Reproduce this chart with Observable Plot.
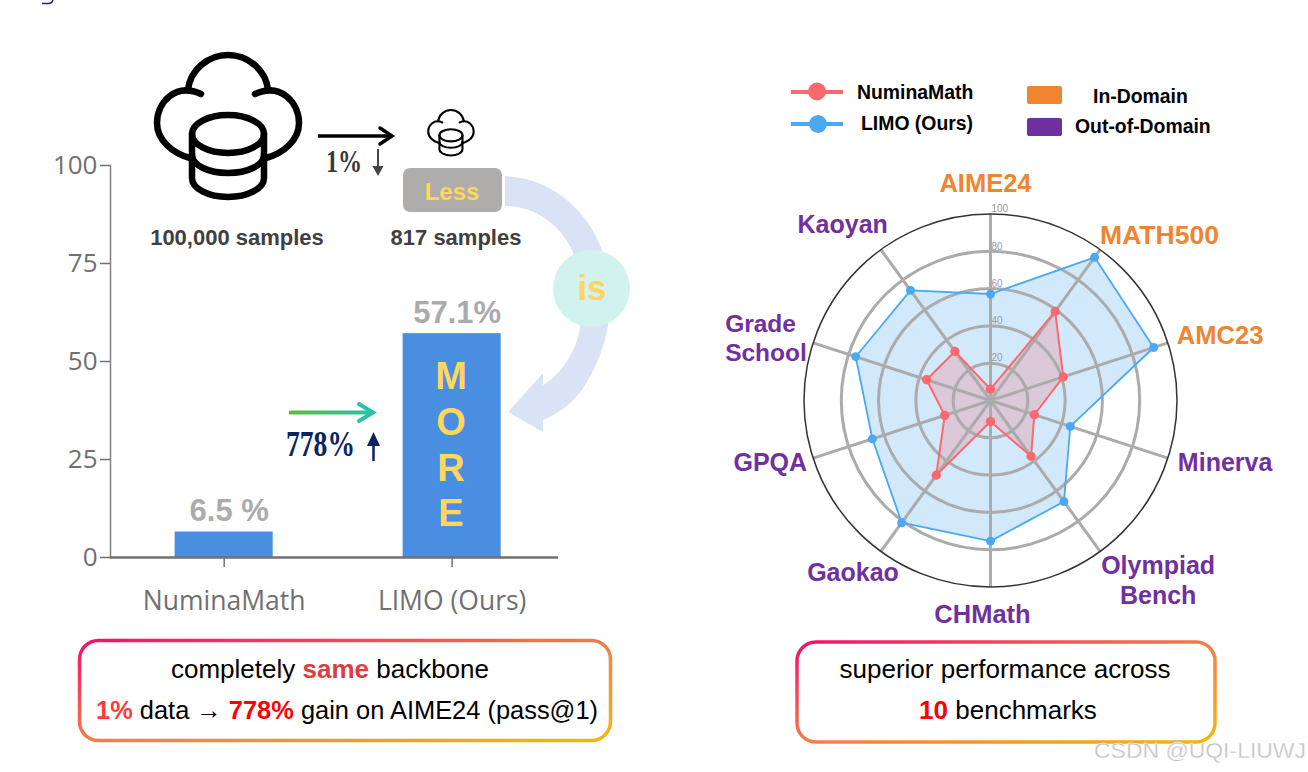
<!DOCTYPE html>
<html>
<head>
<meta charset="utf-8">
<script src="https://cdn.jsdelivr.net/npm/d3@7"></script>
<script src="https://cdn.jsdelivr.net/npm/@observablehq/plot@0.6"></script>
<style>
html,body{margin:0;padding:0;background:#fff;}
#page{position:relative;width:1308px;height:772px;overflow:hidden;font-family:"Liberation Sans",Arial,sans-serif;}
#bars,#radar,#decor{position:absolute;top:0;}
#bars{left:0;}
#radar{left:668px;}
#decor{left:0;width:1308px;height:772px;pointer-events:none;}
#bars svg,#radar svg{overflow:visible;}
</style>
</head>
<body>
<div id="page">
<div id="bars"></div>
<div id="radar"></div>
<svg id="decor" width="1308" height="772" viewBox="0 0 1308 772" xmlns="http://www.w3.org/2000/svg">
<defs>
<linearGradient id="boxGrad" x1="0" y1="0" x2="1" y2="1">
<stop offset="0" stop-color="#F50F6B"/><stop offset="0.5" stop-color="#F37C4A"/><stop offset="1" stop-color="#F2B70F"/>
</linearGradient>
<linearGradient id="greenGrad" gradientUnits="userSpaceOnUse" x1="289" y1="0" x2="376" y2="0">
<stop offset="0" stop-color="#5DBB3F"/><stop offset="1" stop-color="#2EC0A8"/>
</linearGradient>
<g id="cloudIcon" fill="none" stroke="#000" stroke-width="6.5" stroke-linecap="round">
<path d="M201,94 C175,82 157,103 157,123 C157,140 172,153 190,158"/>
<path d="M188,90 C190,70 208,55 228,55 C248,55 266,70 268,90"/>
<path d="M255,94 C281,82 299,103 299,123 C299,140 284,153 266,158"/>
<ellipse cx="228" cy="134" rx="36" ry="19"/>
<path d="M192,134 V178 A36,19 0 0 0 264,178 V134"/>
<path d="M192,155 A36,18 0 0 0 264,155"/>
</g>
</defs>
<path d="M42,3.500 H48 Q52,3.500 53,0" stroke="#1a2a70" stroke-width="1.500" fill="none"/>

<use href="#cloudIcon"/>
<g transform="translate(378,92.4) scale(0.32)"><use href="#cloudIcon"/></g>

<path d="M505,176 C555,178 590,215 602,250 C615,290 615,340 582,390 C570,405 558,414 543,420 L543,432 L508,412 L543,373 L543,385 C560,376 578,350 580,326 C584,300 582,275 572,250 C560,225 535,206 505,206 Z" fill="#DAE3F5"/>
<circle cx="591.5" cy="288.5" r="38.5" fill="#D2F2EF"/>
<text x="592" y="300" font-size="35" font-weight="bold" fill="#FFD75E" text-anchor="middle">is</text>

<path d="M318,136 H391" stroke="#000" stroke-width="3.5" fill="none"/>
<path d="M380,128 L392,136 L380,144" stroke="#000" stroke-width="3.5" fill="none" stroke-linecap="round"/>
<text x="326" y="172" font-family="Liberation Serif" font-weight="bold" font-size="31" fill="#3a3a3a" textLength="36" lengthAdjust="spacingAndGlyphs">1%</text>
<path d="M378,149 V170" stroke="#444" stroke-width="2"/>
<path d="M372.500,166 L383.500,166 L378,176 Z" fill="#444"/>

<rect x="403" y="168" width="99" height="44" rx="7" fill="#AEADAB"/>
<text x="452" y="200" font-size="24" font-weight="bold" fill="#FFD75E" text-anchor="middle">Less</text>
<text x="237" y="245" font-size="22" font-weight="bold" fill="#404040" text-anchor="middle">100,000 samples</text>
<text x="456" y="245" font-size="22" font-weight="bold" fill="#404040" text-anchor="middle">817 samples</text>

<g font-size="38" font-weight="bold" fill="#FFD75E" text-anchor="middle">
<text x="451" y="389">M</text><text x="451" y="435">O</text><text x="451" y="481">R</text><text x="451" y="526">E</text>
</g>

<path d="M289,412.500 H372" stroke="url(#greenGrad)" stroke-width="4" fill="none"/>
<path d="M359,404 L373,412.500 L359,421" stroke="#2EC0A8" stroke-width="4" fill="none" stroke-linecap="round"/>
<text x="286" y="456" font-family="Liberation Serif" font-weight="bold" font-size="35" fill="#0A2463" textLength="69" lengthAdjust="spacingAndGlyphs">778%</text>
<path d="M373.500,441 V461" stroke="#0A2463" stroke-width="2.500"/>
<path d="M367,446 L380,446 L373.500,432 Z" fill="#0A2463"/>

<rect x="79.500" y="640.500" width="531" height="100" rx="19" fill="#fff" stroke="url(#boxGrad)" stroke-width="3.500"/>
<text x="330" y="678" font-size="26" text-anchor="middle" fill="#000">completely <tspan font-weight="bold" fill="#D94040">same</tspan> backbone</text>
<text x="347" y="719" font-size="25.500" text-anchor="middle" fill="#000" textLength="502" lengthAdjust="spacingAndGlyphs"><tspan font-weight="bold" fill="#FF3B3B">1%</tspan> data → <tspan font-weight="bold" fill="#FF0000">778%</tspan> gain on AIME24 (pass@1)</text>

<rect x="797" y="642" width="418" height="100" rx="19" fill="#fff" stroke="url(#boxGrad)" stroke-width="3.500"/>
<text x="1005" y="678" font-size="26" text-anchor="middle" fill="#000">superior performance across</text>
<text x="1008" y="719" font-size="26" text-anchor="middle" fill="#000"><tspan font-weight="bold" fill="#FF0000">10</tspan> benchmarks</text>

<g>
<path d="M791,92 H843" stroke="#F9696D" stroke-width="4"/><circle cx="817" cy="91.500" r="9" fill="#F9696D"/>
<path d="M791,124 H843" stroke="#4AA8F5" stroke-width="4"/><circle cx="818" cy="124" r="9" fill="#4AA8F5"/>
<rect x="1027" y="86" width="35" height="18" rx="2" fill="#EF8530"/>
<rect x="1027" y="118" width="35" height="18" rx="2" fill="#7030A0"/>
<g font-size="19.400" font-weight="bold" fill="#000">
<text x="857" y="99">NuminaMath</text>
<text x="861" y="130">LIMO (Ours)</text>
<text x="1093" y="103">In-Domain</text>
<text x="1075" y="133">Out-of-Domain</text>
</g>
</g>

<text x="1094" y="758" font-size="22" fill="#c4c4c4" stroke="#fff" stroke-width="0.3" textLength="212" lengthAdjust="spacingAndGlyphs">CSDN @UQI-LIUWJ</text>
</svg>
</div>
<script>
// ---- Bar chart data ----
const barModels = ["NuminaMath", "LIMO (Ours)"];
const barScores = [6.5, 57.1];
const barLabels = ["6.5 %", "57.1%"];
const barTicks = [0, 25, 50, 75, 100];

// ---- Radar data (clockwise from the top) ----
const benchmarks = ["AIME24", "MATH500", "AMC23", "Minerva", "Olympiad\nBench", "CHMath", "Gaokao", "GPQA", "Grade\nSchool", "Kaoyan"];
const domains = ["In", "In", "In", "Out", "Out", "Out", "Out", "Out", "Out", "Out"];
const numinaScores = [6.1, 59, 41, 24.7, 37, 11.3, 49.5, 25.8, 36, 32.5];
const limoScores = [57.1, 94.9, 92, 45, 67, 75.4, 81, 66.6, 76, 73];
const ringTicks = [20, 40, 60, 80, 100];

// ---- Bars ----
const axisFont = "'Open Sans','Noto Sans',sans-serif";
const barRows = barModels.map((m, i) => ({model: m, score: barScores[i], label: barLabels[i]}));
const barChart = Plot.plot({
  width: 640, height: 772,
  marginLeft: 110, marginRight: 82, marginTop: 165, marginBottom: 215,
  style: {background: "transparent"},
  x: {domain: barModels, paddingInner: 0.57, paddingOuter: 0.2675, align: 0.53, round: false, label: null},
  y: {domain: [0, 100], label: null},
  marks: [
    Plot.barY(barRows, {x: "model", y: "score", fill: "#4A8EE2"}),
    Plot.frame({anchor: "left", stroke: "#808080", strokeWidth: 1.500}),
    Plot.axisY({ticks: barTicks, tickSize: 10, tickPadding: 3, fontSize: 26, color: "#707070", strokeWidth: 1.500, label: null, fontFamily: axisFont}),
    Plot.axisX({tickSize: 10, tickPadding: 24, fontSize: 26.500, color: "#707070", strokeWidth: 1.500, label: null, fontFamily: axisFont}),
    Plot.ruleY([0], {stroke: "#707070", strokeWidth: 2.500}),
    Plot.text(barRows, {x: "model", y: "score", text: "label", dy: -21, dx: 5, fontSize: 31, fontWeight: "bold", fill: "#ABABAB", fontFamily: "Liberation Sans"})
  ]
});
document.getElementById("bars").append(barChart);

// ---- Radar ----
const angleOf = i => i * 2 * Math.PI / benchmarks.length;
const polar = (scores) => scores.map((v, i) => ({px: v * Math.sin(angleOf(i)), py: v * Math.cos(angleOf(i))}));
const closed = pts => [...pts, pts[0]];
const limoPts = polar(limoScores), numinaPts = polar(numinaScores);
const spokes = benchmarks.map((b, i) => ({x2: 100 * Math.sin(angleOf(i)), y2: 100 * Math.cos(angleOf(i))}));
const colourOf = d => d === "In" ? "#EF8530" : "#7030A0";
const labelMarks = benchmarks.map((b, i) => {
  const place = [
    {a: "middle", dx: -5, dy: -32, s: 25.500},
    {a: "start", dx: 0, dy: -16, s: 26.500},
    {a: "start", dx: 9, dy: -9, s: 25.500},
    {a: "start", dx: 10, dy: 3, s: 25},
    {a: "middle", dx: 58, dy: 28, s: 25},
    {a: "middle", dx: -8, dy: 26, s: 25.500},
    {a: "end", dx: 18, dy: 20, s: 25},
    {a: "end", dx: -6, dy: 3, s: 25},
    {a: "start", dx: -88, dy: -6, s: 24.500},
    {a: "end", dx: 7, dy: -26, s: 25}
  ][i];
  return Plot.text([b], {
    x: () => spokes[i].x2, y: () => spokes[i].y2, text: d => d,
    textAnchor: place.a, dx: place.dx, dy: place.dy,
    fontSize: place.s, fontWeight: "bold", lineHeight: 1.2, fill: colourOf(domains[i]), fontFamily: "Liberation Sans"
  });
});
const cx = 990 - 668, half = 186.5, cy = 400;
const radarChart = Plot.plot({
  width: 640, height: 772,
  style: {background: "transparent"},
  x: {domain: [-100, 100], range: [cx - half, cx + half], axis: null},
  y: {domain: [-100, 100], range: [cy + half, cy - half], axis: null},
  r: {type: "linear", domain: [0, 100], range: [0, half]},
  marks: [
    Plot.line(closed(limoPts), {x: "px", y: "py", fill: "#4AA8F5", fillOpacity: 0.25, stroke: null}),
    Plot.line(closed(numinaPts), {x: "px", y: "py", fill: "#F9696D", fillOpacity: 0.25, stroke: null}),
    Plot.link(spokes, {x1: () => 0, y1: () => 0, x2: "x2", y2: "y2", stroke: "#ABABAB", strokeWidth: 3}),
    Plot.dot(ringTicks.filter(t => t < 100), {x: () => 0, y: () => 0, r: d => d, stroke: "#ABABAB", strokeWidth: 3, fill: "none"}),
    Plot.dot([100], {x: () => 0, y: () => 0, r: d => d, stroke: "#333", strokeWidth: 1.500, fill: "none"}),
    Plot.text(ringTicks, {x: () => 0, y: d => d, text: d => String(d), textAnchor: "start", dx: 1, dy: -5, fontSize: 10, fill: "#9a9a9a", fontFamily: "Liberation Sans"}),
    Plot.line(closed(limoPts), {x: "px", y: "py", stroke: "#4AA8F5", strokeWidth: 1.800}),
    Plot.dot(limoPts, {x: "px", y: "py", r: () => 2.400, fill: "#4AA8F5"}),
    Plot.line(closed(numinaPts), {x: "px", y: "py", stroke: "#F9696D", strokeWidth: 2}),
    Plot.dot(numinaPts, {x: "px", y: "py", r: () => 2.500, fill: "#F9696D"}),
    ...labelMarks
  ]
});
document.getElementById("radar").append(radarChart);
</script>
</body>
</html>
